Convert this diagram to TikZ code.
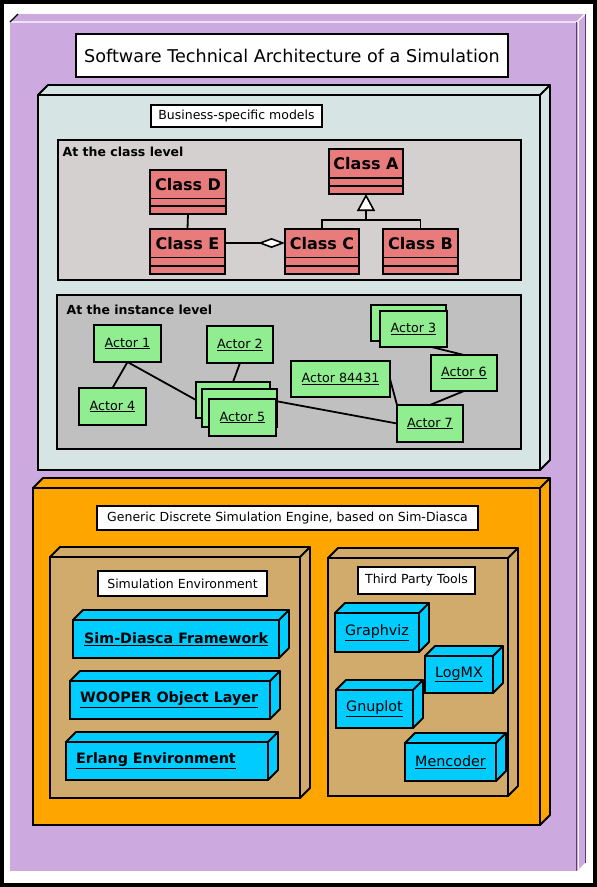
\documentclass[tikz,border=0pt]{standalone}
\usepackage{fontspec}
\setmainfont{DejaVu Sans}
\usetikzlibrary{fit,arrows.meta,calc}
\pgfdeclarelayer{front}
\pgfsetlayers{main,front}
\definecolor{purp}{HTML}{CCAADF}
\definecolor{purpline}{HTML}{5A3F6A}
\definecolor{bluegray}{HTML}{D7E4E4}
\definecolor{classpanel}{HTML}{D4D0D0}
\definecolor{instpanel}{HTML}{C0C0C0}
\definecolor{clsred}{HTML}{E87C7C}
\definecolor{actgreen}{HTML}{90EE90}
\definecolor{engorange}{HTML}{FFA500}
\definecolor{tan}{HTML}{D0AB6B}
\definecolor{cyanbox}{HTML}{00CCFF}
\newcommand\ul[1]{\underline{#1}}
\tikzset{
  rect/.style n args={4}{at={($(#1,#2)!0.5!(#3,#4)$)}, minimum width={(#3-#1)*1pt}, minimum height={(#4-#2)*1pt}},
  base/.style={inner sep=0pt, outer sep=0pt, line width=1.8pt, draw=black},
  whitebox/.style={base, fill=white, font=\fontsize{12.5}{15}\selectfont},
  titlebox/.style={base, fill=white, font=\fontsize{17.6}{21}\selectfont},
  panel/.style={base},
  cls/.style={base, fill=clsred},
  clstext/.style={inner sep=0pt, font=\bfseries\fontsize{16}{19}\selectfont},
  paneltext/.style={inner sep=0pt, anchor=base west, font=\bfseries\fontsize{12.5}{15}\selectfont},
  actor/.style={base, fill=actgreen, font=\fontsize{12.7}{15}\selectfont},
  cube/.style={base},
  fwtext/.style={inner sep=0pt, anchor=west, font=\bfseries\fontsize{14.3}{17}\selectfont},
  tool/.style={base, fill=cyanbox, font=\fontsize{14.3}{17}\selectfont},
  conn/.style={line width=1.8pt, draw=black},
}
\newcommand\cubefaces[3]{%
  \filldraw[fill=#3, line width=1.8pt, line join=round]
    (#1.north west) -- ++(#2,-#2) -- ([shift={(#2,-#2)}]#1.north east) -- (#1.north east) -- cycle
    (#1.north east) -- ++(#2,-#2) -- ([shift={(#2,-#2)}]#1.south east) -- (#1.south east) -- cycle;
}
\begin{document}
\begin{tikzpicture}[x=1pt,y=-1pt]
\useasboundingbox (0,0) rectangle (597,887);
% image frame
\fill[black] (0,0) rectangle (597,887);
\fill[white] (3.5,3.5) rectangle (593,882.5);

% outer purple 3D box
\node[inner sep=0pt, outer sep=0pt, fill=purp, rect={10}{22}{577}{871}] (outer) {};
\fill[purp] (outer.north west) -- ++(8,-8) -- ([shift={(8,-8)}]outer.north east) -- ([shift={(8,-8)}]outer.south east) -- (outer.south east) -- cycle;
\draw[white, line width=1.2pt] (outer.north west) -- (outer.north east) -- ([shift={(8,-8)}]outer.north east);
\draw[white, line width=1.2pt] ([xshift=1.5pt]outer.north east) -- ([xshift=1.5pt]outer.south east);
\draw[purpline, line width=0.9pt] ([xshift=-0.8pt]outer.north east) -- ([xshift=-0.8pt]outer.south east);
\draw[purpline, line width=0.9pt] ([shift={(8,-8)}]outer.north east) -- ([shift={(8,-8)}]outer.south east);
\draw[white!70!gray, line width=0.8pt, densely dotted] (outer.south east) -- ([shift={(8,-8)}]outer.south east);
\draw[black, line width=1.3pt] (outer.north west) -- ++(8,-8);

% title
\node[titlebox, rect={76}{34}{508}{77}] (title) {Software Technical Architecture of a Simulation};

% business-specific models
\node[cube, fill=bluegray, rect={38}{95}{540}{470}] (biz) {};
\cubefaces{biz}{10}{bluegray}
\node[whitebox, rect={151}{105}{322}{127}] (bizlbl) {Business-specific models};

% class level panel
\node[panel, fill=classpanel, rect={58}{140}{521}{280}] (clspanel) {};
\node[paneltext] (clspaneltxt) at (62.5,156) {At the class level};

\node[cls, rect={329}{149}{403}{194}] (ca) {};
\draw[line width=1.8pt] (329,178) -- (403,178) (329,186) -- (403,186);
\node[clstext] (caT) at (366,163.5) {Class A};

\node[cls, rect={150}{170}{226}{214}] (cd) {};
\draw[line width=1.8pt] (150,198.5) -- (226,198.5) (150,206) -- (226,206);
\node[clstext] (cdT) at (188,184.5) {Class D};

\node[cls, rect={150}{229}{225}{274}] (ce) {};
\draw[line width=1.8pt] (150,257.5) -- (225,257.5) (150,266) -- (225,266);
\node[clstext] (ceT) at (187.5,243.5) {Class E};

\node[cls, rect={285}{229}{359}{274}] (cc) {};
\draw[line width=1.8pt] (285,257.5) -- (359,257.5) (285,266) -- (359,266);
\node[clstext] (ccT) at (322,243.5) {Class C};

\node[cls, rect={383}{229}{458}{274}] (cb) {};
\draw[line width=1.8pt] (383,257.5) -- (458,257.5) (383,266) -- (458,266);
\node[clstext] (cbT) at (420.5,243.5) {Class B};

\draw[conn] (cd.south) -- (ce.north);
\draw[conn, -{Diamond[open, fill=white, length=27pt, width=10pt, line width=1.6pt]}] ([yshift=8.5pt]ce.east) -- ([yshift=8.5pt]cc.west);
\coordinate (inh) at (366,220);
\draw[conn] (cc.north) -- (cc.north |- inh) -- (cb.north |- inh) -- (cb.north);
\draw[conn, -{Triangle[open, fill=white, length=17pt, width=18pt, line width=1.6pt]}] (inh) -- (ca.south);

% instance level panel
\node[panel, fill=instpanel, rect={57}{295}{521}{449}] (instpanel) {};
\node[paneltext] (instpaneltxt) at (66.5,314) {At the instance level};

\begin{pgfonlayer}{front}
\node[actor, rect={94}{325}{161}{362}] (a1) {\ul{Actor 1}};
\node[actor, rect={207}{326}{273}{363}] (a2) {\ul{Actor 2}};
\node[actor, rect={79}{388}{146}{425}] (a4) {\ul{Actor 4}};
\node[actor, rect={196}{382}{270}{418}] (a5a) {};
\node[actor, rect={202}{389}{277}{427}] (a5b) {};
\node[actor, rect={209}{399}{276}{436}] (a5) {\ul{Actor 5}};
\node[actor, rect={291}{361}{390}{397}] (a84) {\ul{Actor 84431}};
\node[actor, rect={371}{305}{446}{341}] (a3a) {};
\node[actor, rect={380}{311}{447}{347}] (a3) {\ul{Actor 3}};
\node[actor, rect={431}{355}{497}{391}] (a6) {\ul{Actor 6}};
\node[actor, rect={397}{405}{463}{442}] (a7) {\ul{Actor 7}};
\end{pgfonlayer}
\draw[conn] (a1.south) -- (a4.north);
\draw[conn] (a1.south) -- (a5a.west);
\draw[conn] (a5a.east) -- (a7.west);
\draw[conn] (a2.south) -- (a5a.north);
\draw[conn] (a84.east) -- (a7.north west);
\draw[conn] ([xshift=18pt]a3.south) -- (a6.north);
\draw[conn] (a6.south) -- (a7.north);

% generic engine
\node[cube, fill=engorange, rect={33}{488}{540}{825}] (eng) {};
\cubefaces{eng}{10}{engorange}
\node[whitebox, rect={97}{506}{478}{530}] (englbl) {Generic Discrete Simulation Engine, based on Sim-Diasca};

% simulation environment
\node[cube, fill=tan, rect={50}{557}{300}{798}] (simenv) {};
\cubefaces{simenv}{10}{tan}
\node[whitebox, rect={98}{571}{267}{596}] (simenvlbl) {Simulation Environment};

\node[cube, fill=cyanbox, rect={73}{620}{279}{658}] (sdf) {};
\cubefaces{sdf}{10}{cyanbox}
\node[fwtext] (sdfT) at ([xshift=11pt]sdf.west) {\ul{Sim-Diasca Framework}};

\node[cube, fill=cyanbox, rect={70}{681}{270}{719}] (woo) {};
\cubefaces{woo}{10}{cyanbox}
\node[fwtext] (wooT) at ([xshift=10pt]woo.west) {\ul{WOOPER Object Layer}};

\node[cube, fill=cyanbox, rect={66}{742}{268}{780}] (erl) {};
\cubefaces{erl}{10}{cyanbox}
\node[fwtext] (erlT) at ([xshift=10pt]erl.west) {\ul{Erlang Environment}};

% third party tools
\node[cube, fill=tan, rect={328}{558}{508}{796}] (tpt) {};
\cubefaces{tpt}{10}{tan}
\node[whitebox, rect={358}{567}{475}{594}] (tptlbl) {Third Party Tools};

\node[tool, rect={335}{613}{419}{652}] (gv) {\ul{Graphviz}};
\cubefaces{gv}{10}{cyanbox}
\node[tool, rect={425}{656}{493}{693}] (lm) {\ul{LogMX}};
\cubefaces{lm}{10}{cyanbox}
\node[tool, rect={336}{690}{413}{728}] (gp) {\ul{Gnuplot}};
\cubefaces{gp}{10}{cyanbox}
\node[tool, rect={405}{743}{496}{781}] (mc) {\ul{Mencoder}};
\cubefaces{mc}{10}{cyanbox}
\end{tikzpicture}
\end{document}
